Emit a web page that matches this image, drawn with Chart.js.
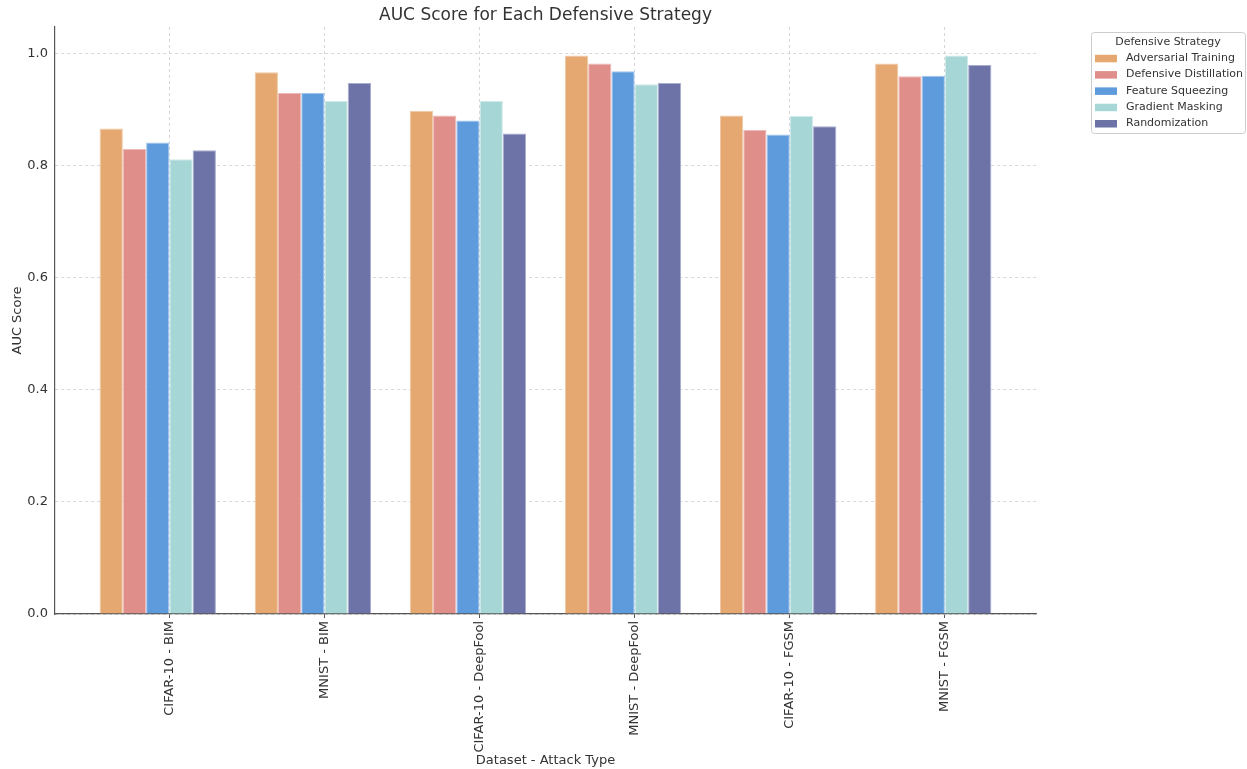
<!DOCTYPE html>
<html>
<head>
<meta charset="utf-8">
<script src="https://cdn.jsdelivr.net/npm/chart.js@4.4.1/dist/chart.umd.min.js"></script>
<style>
    html, body { margin: 0; padding: 0; background: #fff; }
</style>
</head>
<body>
<canvas id="myChart" width="1247" height="769"></canvas>
<script>
"use strict";

// DATA
const categories = ["CIFAR-10 - BIM", "MNIST - BIM", "CIFAR-10 - DeepFool", "MNIST - DeepFool", "CIFAR-10 - FGSM", "MNIST - FGSM"];
const strategies = ["Adversarial Training", "Defensive Distillation", "Feature Squeezing", "Gradient Masking", "Randomization"];
const adversarialTraining = [0.867, 0.967, 0.898, 0.997, 0.890, 0.983];
const defensiveDistillation = [0.830, 0.930, 0.890, 0.983, 0.864, 0.960];
const featureSqueezing = [0.842, 0.930, 0.881, 0.969, 0.856, 0.961];
const gradientMasking = [0.812, 0.916, 0.916, 0.946, 0.889, 0.997];
const randomization = [0.828, 0.948, 0.858, 0.948, 0.871, 0.980];
const yTickValues = [0.0, 0.2, 0.4, 0.6, 0.8, 1.0];

const seriesValues = [adversarialTraining, defensiveDistillation, featureSqueezing, gradientMasking, randomization];
const colors = ["#e5a870", "#e08e8a", "#5e9bdc", "#a6d7d6", "#6d73a6"];
const edges = ["#f0c9a5", "#ecbab7", "#a3c5ec", "#cfeae9", "#a9add0"];
const tickShift = 0.075;
const font = "'DejaVu Sans', sans-serif";

$ready();

function $ready() {
    let datasets = [];
    for (let i = 0; i < strategies.length; i++) {
        datasets.push({
            label: strategies[i],
            data: seriesValues[i].map(function (v, k) { return { x: k, y: v }; }),
            backgroundColor: colors[i],
            borderColor: edges[i],
            borderWidth: 1,
            categoryPercentage: 0.75,
            barPercentage: 1.0
        });
    }

    //TITLE + LEGEND
    let decorations = {
        id: "decorations",
        afterDraw: function (chart) {
            let ctx = chart.ctx;
            let area = chart.chartArea;
            ctx.save();
            ctx.fillStyle = "#333";
            ctx.font = "17px " + font;
            ctx.textAlign = "center";
            ctx.textBaseline = "middle";
            ctx.fillText("AUC Score for Each Defensive Strategy", (area.left + area.right) / 2, 16);

            // legend box
            ctx.strokeStyle = "#cccccc";
            ctx.lineWidth = 1;
            ctx.fillStyle = "rgba(255,255,255,0.8)";
            ctx.beginPath();
            ctx.roundRect(1091.5, 32.5, 154, 101, 3);
            ctx.fill();
            ctx.stroke();

            ctx.fillStyle = "#333";
            ctx.font = "11px " + font;
            ctx.fillText("Defensive Strategy", 1168, 42);
            ctx.textAlign = "left";
            for (let i = 0; i < strategies.length; i++) {
                let y = 58.3 + i * 16.3;
                ctx.fillStyle = colors[i];
                ctx.fillRect(1095, y - 3.5, 22, 7.5);
                ctx.fillStyle = "#333";
                ctx.fillText(strategies[i], 1126, y);
            }
            ctx.restore();
        }
    };

    let myChart = new Chart(document.getElementById("myChart"), {
        type: "bar",
        data: { datasets: datasets },
        options: {
            responsive: false,
            animation: false,
            layout: { padding: { top: 27, right: 211, left: 0, bottom: 0 } },
            plugins: {
                legend: { display: false },
                title: { display: false },
                tooltip: { enabled: false }
            },
            scales: {
                x: {
                    type: "linear",
                    offset: false,
                    min: -0.6625,
                    max: 5.6625,
                    afterBuildTicks: function (scale) {
                        scale.ticks = categories.map(function (c, i) { return { value: i + tickShift }; });
                    },
                    afterFit: function (scale) { scale.height = 155; },
                    ticks: {
                        autoSkip: false,
                        minRotation: 90,
                        maxRotation: 90,
                        padding: 3,
                        color: "#333",
                        font: { family: font, size: 13 },
                        callback: function (v) { return categories[Math.round(v - tickShift)]; }
                    },
                    grid: {
                        offset: false,
                        color: "#cccccc",
                        lineWidth: 0.8,
                        tickLength: 4,
                        tickColor: "#555",
                        tickWidth: 1
                    },
                    border: { color: "#555", width: 1.2, dash: [3, 3] },
                    title: {
                        display: true,
                        text: "Dataset - Attack Type",
                        color: "#333",
                        font: { family: font, size: 13 },
                        padding: { top: 0, bottom: 1 }
                    }
                },
                y: {
                    min: 0,
                    max: 1.048,
                    afterBuildTicks: function (scale) {
                        scale.ticks = yTickValues.map(function (v) { return { value: v }; });
                    },
                    afterFit: function (scale) { scale.width = 55; },
                    ticks: {
                        padding: 7,
                        color: "#333",
                        font: { family: font, size: 13 },
                        callback: function (v) { return v.toFixed(1); }
                    },
                    grid: {
                        color: "#cccccc",
                        lineWidth: 0.8,
                        drawTicks: false
                    },
                    border: { color: "#555", width: 1.2, dash: [3, 3] },
                    title: {
                        display: true,
                        text: "AUC Score",
                        color: "#333",
                        font: { family: font, size: 13 },
                        padding: { top: 10, bottom: 0 }
                    }
                }
            }
        },
        plugins: [decorations]
    });
}
</script>
</body>
</html>
